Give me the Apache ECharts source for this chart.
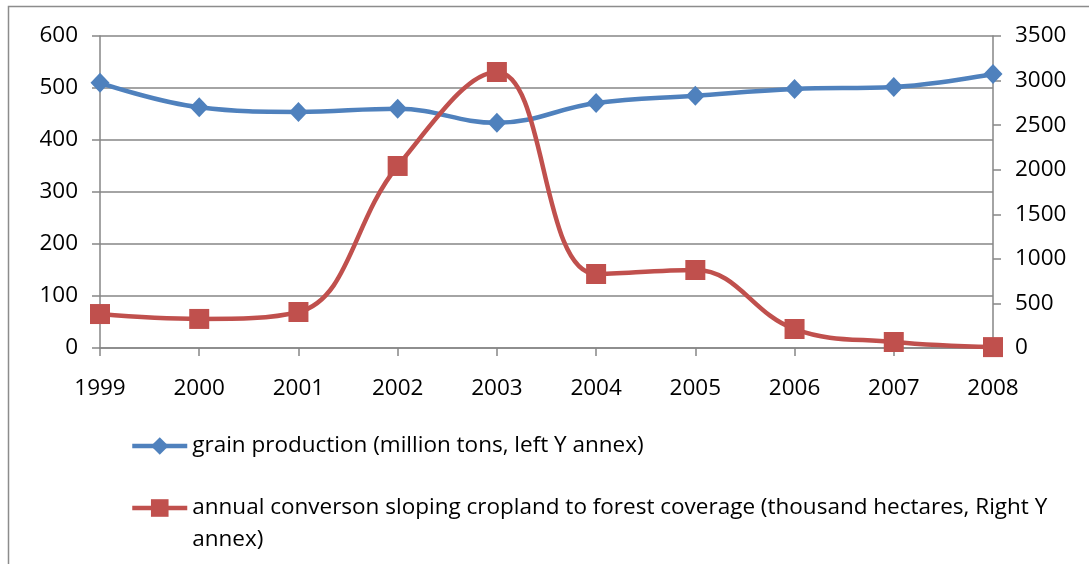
<!DOCTYPE html>
<html>
<head>
<meta charset="utf-8">
<script src="https://cdn.jsdelivr.net/npm/echarts@6/dist/echarts.min.js"></script>
<style>
  html, body { margin: 0; padding: 0; background: #ffffff; }
  #chart { width: 1089px; height: 564px; }
</style>
</head>
<body>
<div id="chart"></div>
<script>
// Years on the category axis
const years = ['1999', '2000', '2001', '2002', '2003', '2004', '2005', '2006', '2007', '2008'];

// Grain production, million tons (left axis)
const grainProduction = [510, 463, 454, 460, 433, 471, 485, 498, 502, 527];

// Annual conversion of sloping cropland to forest, thousand hectares (right axis)
const forestConversion = [381, 326, 404, 2042, 3096, 830, 875, 213, 67, 10];

const grainName = 'grain production (million tons, left Y annex)';
const forestName = 'annual converson sloping cropland to forest coverage (thousand hectares, Right Y annex)';

const FONT = '"Open Sans", "Noto Sans", sans-serif';
const FONT_SIZE = 22.5;
const GRID_GRAY = '#868686';
const BLUE = '#4F81BD';
const RED = '#C0504D';

const chart = echarts.init(document.getElementById('chart'), null, { renderer: 'canvas' });

const plainNumber = v => String(v);

const legendBase = {
  orient: 'vertical',
  left: 130,
  padding: 0,
  itemWidth: 55,
  itemHeight: 22,
  itemGap: 0,
  lineStyle: { width: 4.5 }
};

chart.setOption({
  backgroundColor: '#ffffff',
  animation: false,
  textStyle: { fontFamily: FONT },
  graphic: [
    {
      type: 'rect',
      shape: { x: 8.5, y: 6.5, width: 1100, height: 600 },
      style: { fill: 'none', stroke: '#8c8c8c', lineWidth: 1.5 },
      silent: true
    }
  ],
  grid: { left: 100, right: 96, top: 36, bottom: 216, containLabel: false },
  legend: [
    Object.assign({}, legendBase, {
      top: 430,
      data: [{ name: grainName }],
      textStyle: { fontFamily: FONT, fontSize: FONT_SIZE, color: '#000', lineHeight: 32 }
    }),
    Object.assign({}, legendBase, {
      // a blank leading line keeps the icon level with the first wrapped line
      top: 460,
      data: [{ name: forestName }],
      formatter: name => '\n' + name,
      textStyle: {
        fontFamily: FONT, fontSize: FONT_SIZE, color: '#000', lineHeight: 32,
        width: 865, overflow: 'break'
      }
    })
  ],
  xAxis: {
    type: 'category',
    data: years,
    boundaryGap: false,
    axisLine: { lineStyle: { color: GRID_GRAY, width: 1.5 } },
    axisTick: { show: true, alignWithLabel: true, length: 8, lineStyle: { color: GRID_GRAY, width: 1.5 } },
    axisLabel: { color: '#000', fontSize: FONT_SIZE, margin: 29, fontFamily: FONT },
    splitLine: { show: false }
  },
  yAxis: [
    {
      type: 'value',
      min: 0,
      max: 600,
      interval: 100,
      position: 'left',
      axisLine: { show: true, lineStyle: { color: GRID_GRAY, width: 1.5 } },
      axisTick: { show: true, length: 8, lineStyle: { color: GRID_GRAY, width: 1.5 } },
      axisLabel: { color: '#000', fontSize: FONT_SIZE, margin: 22, fontFamily: FONT, formatter: plainNumber },
      splitLine: { show: true, lineStyle: { color: GRID_GRAY, width: 1.5 } }
    },
    {
      type: 'value',
      min: 0,
      max: 3500,
      interval: 500,
      position: 'right',
      axisLine: { show: true, lineStyle: { color: GRID_GRAY, width: 1.5 } },
      axisTick: { show: true, length: 8, lineStyle: { color: GRID_GRAY, width: 1.5 } },
      axisLabel: { color: '#000', fontSize: FONT_SIZE, margin: 22, fontFamily: FONT, formatter: plainNumber },
      splitLine: { show: false }
    }
  ],
  series: [
    {
      name: grainName,
      type: 'line',
      yAxisIndex: 0,
      data: grainProduction,
      smooth: 0.4,
      symbol: 'diamond',
      symbolSize: [19, 20],
      lineStyle: { color: BLUE, width: 4.5 },
      itemStyle: { color: BLUE },
      z: 3
    },
    {
      name: forestName,
      type: 'line',
      yAxisIndex: 1,
      data: forestConversion,
      smooth: 0.4,
      symbol: 'rect',
      symbolSize: 20,
      lineStyle: { color: RED, width: 4.5 },
      itemStyle: { color: RED },
      z: 4
    }
  ]
});
</script>
</body>
</html>
